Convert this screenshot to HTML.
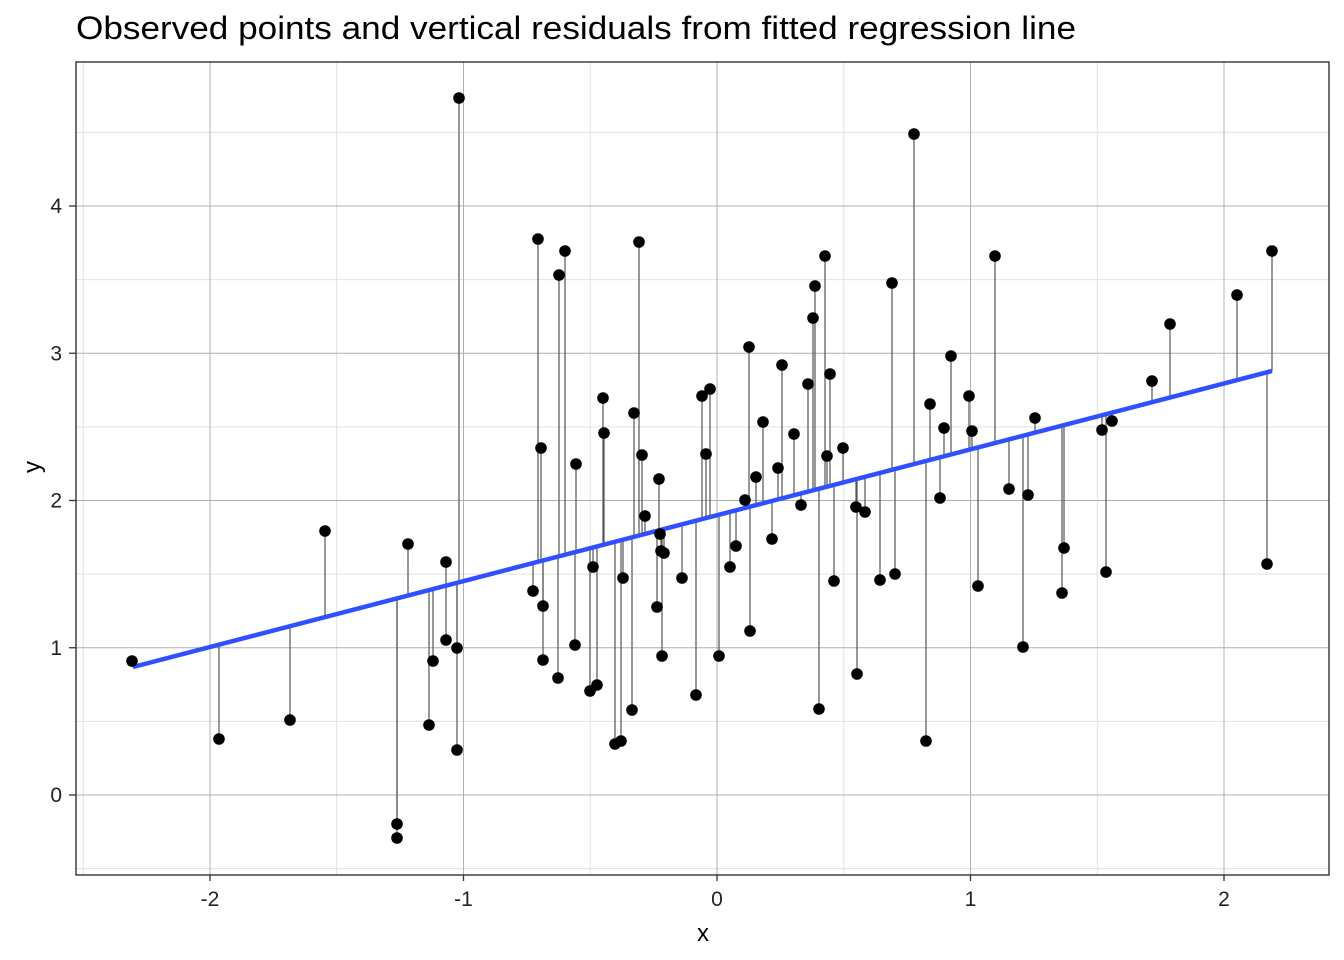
<!DOCTYPE html>
<html><head><meta charset="utf-8"><style>
html,body{margin:0;padding:0;background:#fff;}
svg{display:block;font-family:"Liberation Sans",Arial,sans-serif;}
</style></head><body>
<svg id="s" width="1344" height="960" xmlns="http://www.w3.org/2000/svg">
<rect width="1344" height="960" fill="#fff"/>
<text x="76" y="39" font-size="32" textLength="1000" lengthAdjust="spacingAndGlyphs" fill="#000">Observed points and vertical residuals from fitted regression line</text>
<g id="grid"></g>
<g id="res"></g>
<line x1="133" y1="667" x2="1272" y2="371" stroke="#3050FF" stroke-width="4.5"/>
<g id="pts"></g>
<rect x="76" y="62" width="1253" height="813" fill="none" stroke="#222" stroke-width="1.3"/>
<g id="ax" font-size="21" fill="#222"></g>
<text x="703" y="941" font-size="24" text-anchor="middle" fill="#000">x</text>
<text transform="translate(40,467) rotate(-90)" font-size="24" text-anchor="middle" fill="#000">y</text>
</svg>
<script>
var NS="http://www.w3.org/2000/svg";
function el(p,t,a){var e=document.createElementNS(NS,t);for(var k in a)e.setAttribute(k,a[k]);p.appendChild(e);return e;}
var g=document.getElementById('grid'),ax=document.getElementById('ax');
function X(v){return 717+v*253.5;}function Y(v){return 795-v*147.25;}
[-2.5,-1.5,-0.5,0.5,1.5].forEach(function(v){el(g,'line',{x1:X(v),x2:X(v),y1:62,y2:875,stroke:'#e0e0e0','stroke-width':1});});
[-0.5,0.5,1.5,2.5,3.5,4.5].forEach(function(v){el(g,'line',{y1:Y(v),y2:Y(v),x1:76,x2:1329,stroke:'#e0e0e0','stroke-width':1});});
[-2,-1,0,1,2].forEach(function(v){el(g,'line',{x1:X(v),x2:X(v),y1:62,y2:875,stroke:'#b0b0b0','stroke-width':1});
 el(ax,'line',{x1:X(v),x2:X(v),y1:875,y2:881,stroke:'#333','stroke-width':1.3});
 var t=el(ax,'text',{x:X(v),y:906,'text-anchor':'middle'});t.textContent=v;});
[0,1,2,3,4].forEach(function(v){el(g,'line',{y1:Y(v),y2:Y(v),x1:76,x2:1329,stroke:'#b0b0b0','stroke-width':1});
 el(ax,'line',{x1:69,x2:76,y1:Y(v),y2:Y(v),stroke:'#333','stroke-width':1.3});
 var t=el(ax,'text',{x:62,y:Y(v)+7,'text-anchor':'end'});t.textContent=v;});
var P=[[132,661],[219,739],[290,720],[325,531],[397,824],[397,838],[408,544],[429,725],[433,661],[446,562],[446,640],[457,648],[457,750],[459,98],[533,591],[538,239],[541,448],[543,606],[543,660],[558,678],[559,275],[565,251],[575,645],[576,464],[590,691],[593,567],[597,685],[603,398],[604,433],[615,744],[621,741],[623,578],[632,710],[634,413],[639,242],[642,455],[645,516],[657,607],[659,479],[660,534],[661,551],[662,656],[664,553],[682,578],[696,695],[702,396],[706,454],[710,389],[719,656],[730,567],[736,546],[745,500],[749,347],[750,631],[756,477],[763,422],[772,539],[778,468],[782,365],[794,434],[801,505],[808,384],[813,318],[815,286],[819,709],[825,256],[827,456],[830,374],[834,581],[843,448],[856,507],[857,674],[865,512],[880,580],[892,283],[895,574],[914,134],[926,741],[930,404],[940,498],[944,428],[951,356],[969,396],[972,431],[978,586],[995,256],[1009,489],[1023,647],[1028,495],[1035,418],[1062,593],[1064,548],[1102,430],[1106,572],[1112,421],[1152,381],[1170,324],[1237,295],[1267,564],[1272,251]];
var r=document.getElementById('res'),p=document.getElementById('pts');
P.forEach(function(q){var ly=667-(q[0]-133)*(296/1139);
 el(r,'line',{x1:q[0],x2:q[0],y1:q[1],y2:ly,stroke:'#555','stroke-width':1.2});
 el(p,'circle',{cx:q[0],cy:q[1],r:5.8,fill:'#000'});});
</script>
</body></html>
